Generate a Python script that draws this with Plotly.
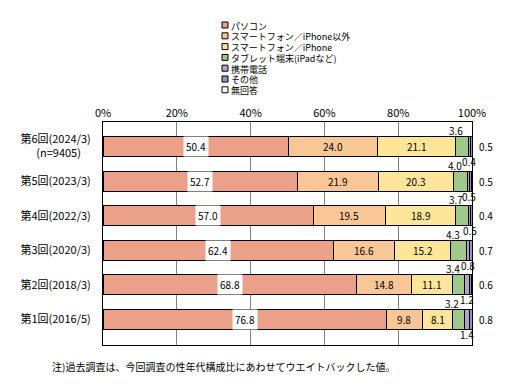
import plotly.graph_objects as go

categories = ["第6回(2024/3)<br>(n=9405)\u00a0\u00a0\u00a0\u00a0", "第5回(2023/3)", "第4回(2022/3)",
              "第3回(2020/3)", "第2回(2018/3)", "第1回(2016/5)"]
series_names = ["パソコン", "スマートフォン／iPhone以外", "スマートフォン／iPhone",
                "タブレット端末(iPadなど)", "携帯電話", "その他", "無回答"]
pc = [50.4, 52.7, 57.0, 62.4, 68.8, 76.8]
sp_other = [24.0, 21.9, 19.5, 16.6, 14.8, 9.8]
iphone = [21.1, 20.3, 18.9, 15.2, 11.1, 8.1]
tablet = [3.6, 4.0, 3.7, 4.3, 3.4, 3.2]
mobile = [0.4, 0.5, 0.5, 0.8, 1.2, 1.4]
other = [0.5, 0.5, 0.4, 0.7, 0.6, 0.8]
no_answer = [0.0, 0.0, 0.0, 0.0, 0.0, 0.0]
x_ticks = [0, 20, 40, 60, 80, 100]
x_ticktext = ["0%", "20%", "40%", "60%", "80%", "100%"]
note = "注)過去調査は、今回調査の性年代構成比にあわせてウエイトバックした値。"

colors = ["#EBA08A", "#F9C796", "#FDE69A", "#9FC88A", "#B5A2C8", "#8E97C9", "#FFFFFF"]
all_series = [pc, sp_other, iphone, tablet, mobile, other, no_answer]

FONT = "Noto Sans CJK JP"
fig = go.Figure()
for name, vals, col in zip(series_names, all_series, colors):
    fig.add_trace(go.Bar(
        y=categories, x=vals, name=name, orientation="h",
        marker=dict(color=col, line=dict(color="#000000", width=1)),
        showlegend=False, hoverinfo="x+name",
    ))

annotations = []
for i, cat in enumerate(categories):
    c0 = 0.0
    cum = []
    for s in all_series:
        cum.append(c0)
        c0 += s[i]
    annotations.append(dict(x=cum[0] + pc[i] / 2, y=cat, xref="x", yref="y",
                            text=f"{pc[i]:.1f}", showarrow=False, bgcolor="#FFFFFF",
                            borderpad=2, font=dict(size=10, color="#000")))
    for s in (sp_other, iphone):
        k = all_series.index(s)
        annotations.append(dict(x=cum[k] + s[i] / 2, y=cat, xref="x", yref="y",
                                text=f"{s[i]:.1f}", showarrow=False,
                                font=dict(size=10, color="#000")))
    annotations.append(dict(x=cum[3] + tablet[i] / 2, y=cat, xref="x", yref="y",
                            text=f"{tablet[i]:.1f}", showarrow=False, yshift=16, xshift=-6,
                            font=dict(size=10, color="#000")))
    annotations.append(dict(x=cum[4] + mobile[i] / 2, y=cat, xref="x", yref="y",
                            text=f"{mobile[i]:.1f}", showarrow=False, yshift=-15,
                            font=dict(size=10, color="#000")))
    annotations.append(dict(x=100, y=cat, xref="x", yref="y", xanchor="left",
                            text=f"{other[i]:.1f}", showarrow=False, xshift=5,
                            font=dict(size=10, color="#000")))

# page has an 8px body margin: figure coords = page coords - 8
OFF = 8
W, H = 528 - 2 * OFF, 392 - 2 * OFF
L, T = 103 - OFF, 122 - OFF
R = W - (472 - OFF)
B = H - (345 - OFF)
pw, ph = W - L - R, H - T - B
def px2paper(px, py):
    px -= OFF
    py -= OFF
    return (px - L) / pw, 1 - (py - T) / ph

shapes = []
for j, (name, col) in enumerate(zip(series_names, colors)):
    cy = 25 + j * 10.8
    x0, y0 = px2paper(222, cy - 3)
    x1, y1 = px2paper(228, cy + 3)
    shapes.append(dict(type="rect", xref="paper", yref="paper", x0=x0, x1=x1, y0=y1, y1=y0,
                       fillcolor=col, line=dict(color="#000", width=1)))
    tx, ty = px2paper(229, cy + 1)
    annotations.append(dict(x=tx, y=ty, xref="paper", yref="paper", xanchor="left",
                            yanchor="middle", text=name, showarrow=False,
                            font=dict(size=9, color="#000")))

nx, ny = px2paper(50, 366)
annotations.append(dict(x=nx, y=ny, xref="paper", yref="paper", xanchor="left",
                        yanchor="middle", text=note, showarrow=False,
                        font=dict(size=10, color="#000")))

fig.update_layout(
    barmode="stack", bargap=0.42,
    width=W, height=H,
    margin=dict(l=L, r=R, t=T, b=B, pad=0, autoexpand=False),
    paper_bgcolor="#FFFFFF", plot_bgcolor="#FFFFFF",
    font=dict(family=FONT, size=11, color="#000"),
    annotations=annotations, shapes=shapes,
    xaxis=dict(side="top", range=[0, 100], tickvals=x_ticks, ticktext=x_ticktext,
               showgrid=True, gridcolor="#808080", gridwidth=1, zeroline=False,
               showline=True, linecolor="#000", linewidth=1, mirror=True,
               ticks="", tickfont=dict(size=11), fixedrange=True, automargin=False),
    yaxis=dict(type="category", categoryorder="array", categoryarray=categories,
               autorange="reversed", showgrid=False, zeroline=False,
               showline=True, linecolor="#000", linewidth=1, mirror=True,
               ticks="", ticklabelstandoff=9, tickfont=dict(size=11), fixedrange=True,
               automargin=False),
)

fig.write_html("out.html")
